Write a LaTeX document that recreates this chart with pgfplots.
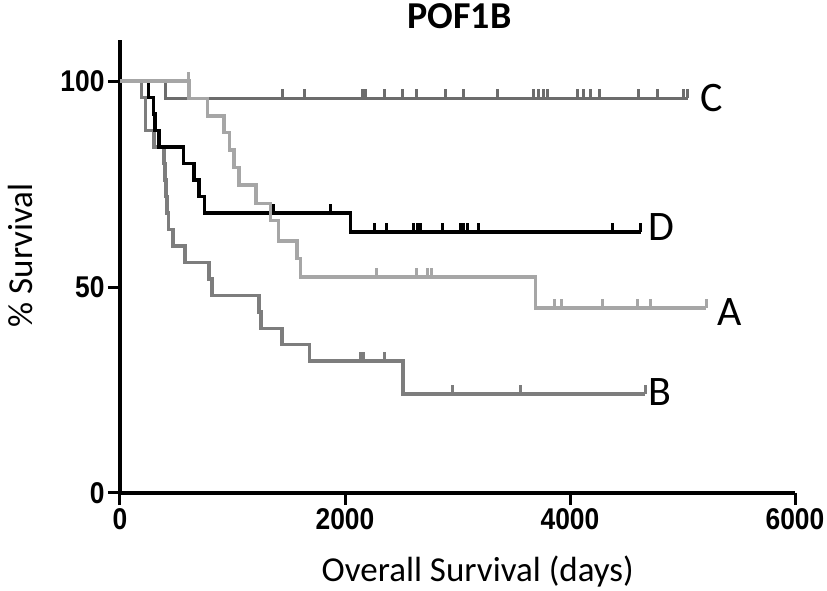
\documentclass[border=0pt]{standalone}
\usepackage{fontspec}
\setmainfont{Carlito}
\newfontfamily\tickfont[FakeStretch=0.88]{Liberation Sans}
\usepackage{pgfplots}
\pgfplotsset{compat=1.18}
\definecolor{cA}{RGB}{166,166,166}
\definecolor{cB}{RGB}{125,125,125}
\definecolor{cC}{RGB}{108,108,108}
\pgfdeclareplotmark{cens}{\pgfpathmoveto{\pgfpoint{0pt}{0pt}}\pgfpathlineto{\pgfpoint{0pt}{9pt}}\pgfusepathqstroke}
\begin{document}
\begin{tikzpicture}
\path[use as bounding box] (-120pt,-98pt) rectangle (707pt,493pt);
\begin{axis}[
  at={(0pt,0pt)}, anchor=south west,
  width=675pt, height=453pt, scale only axis,
  xmin=0, xmax=6000, ymin=0, ymax=110,
  separate axis lines,
  axis x line*=bottom, axis y line*=left,
  axis line style={-, line width=3.8pt, black},
  xtick={0,2000,4000,6000}, ytick={0,50,100},
  tick align=outside, major tick length=12pt,
  tick style={line width=3pt, black},
  /pgf/number format/assume math mode=true,
  /pgf/number format/1000 sep={},
  ticklabel style={font=\tickfont\bfseries\fontsize{30}{30}\selectfont},
  clip=false,
]
\addplot[const plot, cB, line width=3.5pt] coordinates {(0,100)(190,96)(227,88)(301,84)(390,80)(398,76)(408,72)(418,68)(430,64)(473,60)(580,56)(790,52)(819,48)(1234,44)(1255,40)(1442,36)(1685,32)(2517,24)(4671,24)};
\addplot[only marks, mark=cens, cB, mark options={line width=3pt}] coordinates {(2140,32)(2165,32)(2354,32)(2953,24)(3560,24)(4671,24)};
\addplot[const plot, cC, line width=3.5pt] coordinates {(0,100)(404,95.8)(5050,95.8)};
\addplot[only marks, mark=cens, cC, mark options={line width=3pt}] coordinates {(1442,95.8)(1640,95.8)(2153,95.8)(2182,95.8)(2351,95.8)(2508,95.8)(2636,95.8)(2893,95.8)(3056,95.8)(3353,95.8)(3678,95.8)(3723,95.8)(3762,95.8)(3797,95.8)(4064,95.8)(4123,95.8)(4182,95.8)(4265,95.8)(4612,95.8)(4775,95.8)(5006,95.8)(5047,95.8)};
\addplot[const plot, black, line width=3.5pt] coordinates {(0,100)(254,96)(300,92)(310,88)(345,84)(565,80)(660,76)(701,72)(750,68)(2050,63.4)(4627,63.4)};
\addplot[only marks, mark=cens, black, mark options={line width=3pt}] coordinates {(1367,68)(1874,68)(2262,63.4)(2369,63.4)(2606,63.4)(2640,63.4)(2671,63.4)(2864,63.4)(3027,63.4)(3056,63.4)(3086,63.4)(3189,63.4)(4375,63.4)(4627,63.4)};
\addplot[const plot, cA, line width=3.5pt] coordinates {(0,100)(612,95.8)(778,91.6)(923,87.5)(975,83.3)(1015,79.0)(1060,74.8)(1207,70.3)(1336,66.2)(1408,61.2)(1575,57.0)(1604,52.4)(3693,44.9)(5213,44.9)};
\addplot[only marks, mark=cens, cA, mark options={line width=3pt}] coordinates {(612,100)(2280,52.4)(2636,52.4)(2730,52.4)(2765,52.4)(3862,44.9)(3922,44.9)(4286,44.9)(4597,44.9)(4716,44.9)(5213,44.9)};
\node[anchor=west, font=\fontsize{42}{42}\selectfont, inner sep=0pt] at (axis cs:5160,96) {C};
\node[anchor=west, font=\fontsize{42}{42}\selectfont, inner sep=0pt] at (axis cs:4700,64.5) {D};
\node[anchor=west, font=\fontsize{42}{42}\selectfont, inner sep=0pt] at (axis cs:5310,44) {A};
\node[anchor=west, font=\fontsize{42}{42}\selectfont, inner sep=0pt] at (axis cs:4700,24.6) {B};
\node[font=\bfseries\fontsize{38}{38}\selectfont, inner sep=0pt] at (axis description cs:0.503,1.052) {POF1B};
\node[font=\fontsize{35}{35}\selectfont] at (axis description cs:0.530,-0.1744) {Overall Survival (days)};
\node[font=\fontsize{35}{35}\selectfont, rotate=90] at (axis description cs:-0.148,0.525) {\% Survival};
\end{axis}
\end{tikzpicture}
\end{document}
